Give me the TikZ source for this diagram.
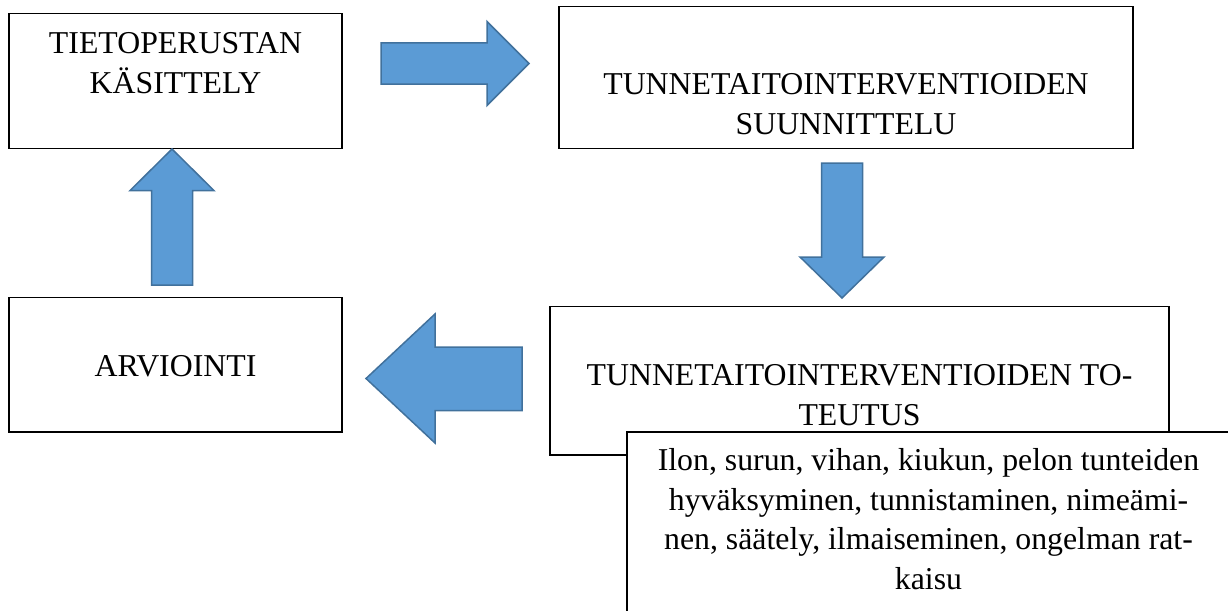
\documentclass[tikz,border=0pt]{standalone}
\usepackage{fontspec}
\setmainfont{Liberation Serif}
\definecolor{arrfill}{HTML}{5B9BD5}
\definecolor{arrline}{HTML}{41719C}
\begin{document}
\begin{tikzpicture}[x=1pt,y=-1pt,
  box/.style={draw=black, line width=1.2pt, fill=white, inner sep=0pt, outer sep=0pt},
  txt/.style={font=\fontsize{31.8}{39.5}\selectfont, align=center, inner sep=0pt, anchor=base},
  blockarrow/.style={fill=arrfill, draw=arrline, line width=1.5pt, line join=miter}]
\useasboundingbox (0,0) rectangle (1228,610);
\clip (0,0) rectangle (1228,610);
% boxes
\node[box, minimum width=333pt, minimum height=135pt] (b1) at (175.5,81.1) {};
\node[box, minimum width=574pt, minimum height=142pt] (b2) at (846,77.6) {};
\node[box, minimum width=619pt, minimum height=148.4pt] (b3) at (859.5,380.8) {};
\node[box, minimum width=605pt, minimum height=188pt] (b4) at (929.5,526) {};
\node[box, minimum width=333pt, minimum height=134.3pt] (b5) at (175.5,364.85) {};
% texts (anchor = baseline of the last line)
\node[txt] (t1) at (175.5,93) {TIETOPERUSTAN\\KÄSITTELY};
\node[txt] (t2) at (846,134) {TUNNETAITOINTERVENTIOIDEN\\SUUNNITTELU};
\node[txt] (t3) at (859.5,425) {TUNNETAITOINTERVENTIOIDEN TO-\\TEUTUS};
\node[txt] (t4) at (928.5,589) {Ilon, surun, vihan, kiukun, pelon tunteiden\\hyväksyminen, tunnistaminen, nimeämi-\\nen, säätely, ilmaiseminen, ongelman rat-\\kaisu};
\node[txt] (t5) at (175.5,376.6) {ARVIOINTI};
% block arrows
\draw[blockarrow] (381,43) -- (487,43) -- (487,21.5) -- (529,63.5) -- (487,105.5) -- (487,84) -- (381,84) -- cycle;
\draw[blockarrow] (821.5,163) -- (862.5,163) -- (862.5,257) -- (884,257) -- (842,298) -- (800,257) -- (821.5,257) -- cycle;
\draw[blockarrow] (522,347) -- (435,347) -- (435,314) -- (366,378.5) -- (435,443) -- (435,410.5) -- (522,410.5) -- cycle;
\draw[blockarrow] (151.5,285) -- (151.5,190.6) -- (130,190.6) -- (172,149) -- (214,190.6) -- (192.5,190.6) -- (192.5,285) -- cycle;
\end{tikzpicture}
\end{document}
